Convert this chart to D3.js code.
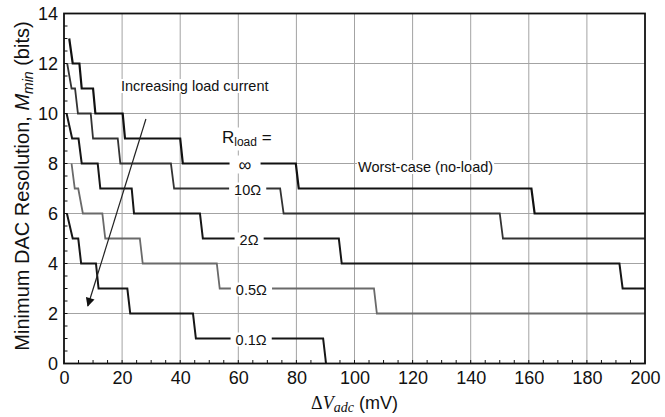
<!DOCTYPE html>
<html>
<head>
<meta charset="utf-8">
<script src="https://cdn.jsdelivr.net/npm/d3@7"></script>
<style>
  body { margin: 0; background: #fff; }
  text { font-family: "Liberation Sans", Arial, sans-serif; fill: #111; }
</style>
</head>
<body>
<div id="chart"></div>
<script>

// curves: [deltaV_adc (mV), M_min (bits)]
const rInf = [[1.8,13],[3.0,12],[5.3,12],[6.1,11],[10.0,11],[10.8,10],[20.2,10],[21.0,9],[40.0,9],[40.9,8],
              [79.8,8],[80.8,7],[160.9,7],[162.0,6],[200,6]];
const r10 = [[1.1,12],[2.6,11],[3.8,11],[4.8,10],[9.2,10],[10.0,9],[18.5,9],[19.4,8],[36.8,8],[37.9,7],
             [74.4,7],[75.6,6],[150.0,6],[151.1,5],[200,5]];
const r2 = [[0.9,10],[2.8,9],[5.0,9],[6.1,8],[11.6,8],[12.5,7],[23.3,7],[24.1,6],[46.8,6],[47.8,5],
            [94.6,5],[95.6,4],[191.2,4],[192.3,3],[200,3]];
const r05 = [[2.6,8],[3.7,7],[4.9,7],[6.5,6],[13.2,6],[14.2,5],[26.1,5],[27.1,4],[52.6,4],[53.6,3],
             [106.7,3],[107.7,2],[200,2]];
const r01 = [[1.0,6],[3.0,5],[4.9,5],[5.9,4],[11.0,4],[11.9,3],[21.8,3],[22.8,2],[44.4,2],[45.4,1],
             [89.2,1],[90.2,0]];

const curveNames = ["\u221E", "10\u03A9", "2\u03A9", "0.5\u03A9", "0.1\u03A9"];
const labelAt = [[62.3,8],[63.2,7],[63.7,5],[64.5,3],[64.4,1]]; // label spot on each curve

const xTicks = [0,20,40,60,80,100,120,140,160,180,200];
const yTicks = [0,2,4,6,8,10,12,14];

const W = 665, H = 417;
const margin = {top: 13.5, right: 20, bottom: 53.5, left: 64};

const svg = d3.select("#chart").append("svg")
    .attr("width", W)
    .attr("height", H);

const x = d3.scaleLinear().domain([0, 200]).range([margin.left, W - margin.right]);
const y = d3.scaleLinear().domain([0, 14]).range([H - margin.bottom, margin.top]);

// grid
svg.append("g").selectAll("line.gx")
    .data(xTicks.slice(1, -1)).enter().append("line")
    .attr("x1", d => x(d)).attr("x2", d => x(d))
    .attr("y1", y(0)).attr("y2", y(14))
    .attr("stroke", "#a3a3a3").attr("stroke-width", 1);
svg.append("g").selectAll("line.gy")
    .data(yTicks.slice(1, -1)).enter().append("line")
    .attr("x1", x(0)).attr("x2", x(200))
    .attr("y1", d => y(d)).attr("y2", d => y(d))
    .attr("stroke", "#a3a3a3").attr("stroke-width", 1);

// staircase curves
const line = d3.line().x(d => x(d[0])).y(d => y(d[1]));
const curves = [rInf, r10, r2, r05, r01];
const curveColor = ["#111", "#333", "#161616", "#6a6a6a", "#161616"];
const curveWidth = [2.2, 1.8, 2, 1.8, 2];

svg.append("g").selectAll("path")
    .data(curves).enter().append("path")
    .attr("d", d => line(d))
    .attr("fill", "none")
    .attr("stroke", (d, i) => curveColor[i])
    .attr("stroke-width", (d, i) => curveWidth[i])
    .attr("stroke-linejoin", "miter");

// text with a white box behind it, covering grid and curve
function boxedText(parent, px, py, txt, size, anchor, pad) {
    let g = parent.append("g");
    let r = g.append("rect").attr("fill", "#fff");
    let t = g.append("text")
        .attr("x", px).attr("y", py)
        .attr("text-anchor", anchor)
        .attr("dominant-baseline", "central")
        .style("font-size", size + "px")
        .text(txt);
    let b = t.node().getBBox();
    r.attr("x", b.x - pad).attr("y", b.y + 1)
        .attr("width", b.width + 2 * pad).attr("height", b.height - 2);
    return t;
}

const labels = svg.append("g");
curveNames.forEach((name, i) => {
    let p = labelAt[i];
    if (i === 0) {
        boxedText(labels, x(p[0]), y(p[1]) + 1, name, 18, "middle", 9);
    } else {
        boxedText(labels, x(p[0]), y(p[1]) + 1, name, 14.5, "middle", 5);
    }
});

// R_load = label
const rl = svg.append("g");
const rlBg = rl.append("rect").attr("fill", "#fff");
const rlText = rl.append("text")
    .attr("x", 222).attr("y", 142.5)
    .style("font-size", "17px");
rlText.append("tspan").text("R");
rlText.append("tspan").attr("dy", 3).style("font-size", "12px").text("load");
rlText.append("tspan").attr("dy", -3).style("font-size", "17px").text(" =");
let rb = rlText.node().getBBox();
rlBg.attr("x", rb.x - 2).attr("y", rb.y).attr("width", rb.width + 4).attr("height", rb.height + 2);

boxedText(svg, 358, 167, "Worst-case (no-load)", 14.5, "start", 1);
boxedText(svg, 121, 86, "Increasing load current", 14.5, "start", 1);

// arrow
const arrowFrom = [28.2, 9.78], arrowTo = [8.2, 2.3];
svg.append("defs").append("marker")
    .attr("id", "head")
    .attr("viewBox", "0 0 10 10")
    .attr("refX", 9).attr("refY", 5)
    .attr("markerWidth", 11).attr("markerHeight", 9)
    .attr("markerUnits", "userSpaceOnUse")
    .attr("orient", "auto")
    .append("path").attr("d", "M0,0L10,5L0,10Z").attr("fill", "#111");
svg.append("line")
    .attr("x1", x(arrowFrom[0])).attr("y1", y(arrowFrom[1]))
    .attr("x2", x(arrowTo[0])).attr("y2", y(arrowTo[1]))
    .attr("stroke", "#222").attr("stroke-width", 1.2)
    .attr("marker-end", "url(#head)");

// minor ticks, pointing inward
svg.append("g").selectAll("line")
    .data(d3.range(0, 200.1, 5)).enter().append("line")
    .attr("x1", d => x(d)).attr("x2", d => x(d))
    .attr("y1", y(0)).attr("y2", y(0) - 3.5)
    .attr("stroke", "#111").attr("stroke-width", 1);
svg.append("g").selectAll("line")
    .data(d3.range(0, 14.01, 0.5)).enter().append("line")
    .attr("x1", x(0)).attr("x2", x(0) + 3.5)
    .attr("y1", d => y(d)).attr("y2", d => y(d))
    .attr("stroke", "#111").attr("stroke-width", 1);

// frame
svg.append("rect")
    .attr("x", x(0)).attr("y", y(14))
    .attr("width", x(200) - x(0)).attr("height", y(0) - y(14))
    .attr("fill", "none").attr("stroke", "#111").attr("stroke-width", 1.8);

// axes labels
const xAxis = d3.axisBottom(x).tickValues(xTicks).tickSize(0).tickPadding(8);
svg.append("g").attr("transform", "translate(0," + y(0) + ")").call(xAxis)
    .call(g => g.select(".domain").remove())
    .selectAll("text").style("font-size", "18px").attr("fill", "#111");

const yAxis = d3.axisLeft(y).tickValues(yTicks).tickSize(0).tickPadding(6);
svg.append("g").attr("transform", "translate(" + x(0) + ",0)").call(yAxis)
    .call(g => g.select(".domain").remove())
    .selectAll("text").style("font-size", "18px").attr("fill", "#111");

// y title
const yt = svg.append("text")
    .attr("transform", "translate(29,186) rotate(-90)")
    .attr("text-anchor", "middle")
    .style("font-size", "20px");
yt.append("tspan").text("Minimum DAC Resolution, ");
yt.append("tspan").style("font-style", "italic").text("M");
yt.append("tspan").style("font-style", "italic").style("font-size", "14px").attr("dy", 4).text("min");
yt.append("tspan").attr("dy", -4).text(" (bits)");

// x title
const xt = svg.append("text")
    .attr("x", (x(0) + x(200)) / 2).attr("y", 409)
    .attr("text-anchor", "middle")
    .style("font-size", "18px");
xt.append("tspan").style("font-family", "'Liberation Serif', 'Times New Roman', serif").text("\u0394");
xt.append("tspan").style("font-family", "'Liberation Serif', 'Times New Roman', serif")
    .style("font-style", "italic").text("V");
xt.append("tspan").style("font-family", "'Liberation Serif', 'Times New Roman', serif")
    .style("font-style", "italic").style("font-size", "14px").attr("dy", 3).text("adc");
xt.append("tspan").attr("dy", -3).text(" (mV)");

</script>
</body>
</html>
